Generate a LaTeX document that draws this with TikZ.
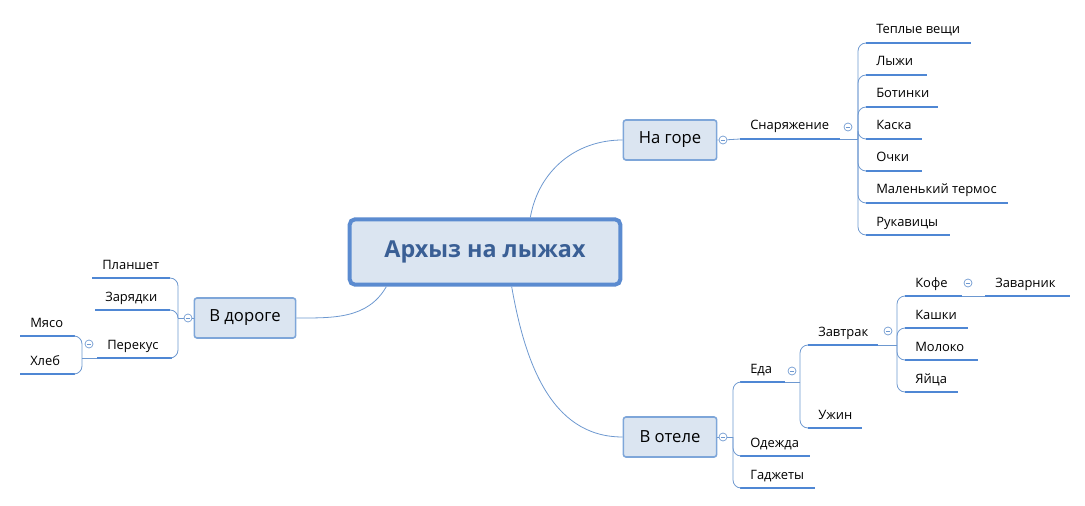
\documentclass[tikz,border=0pt]{standalone}
\usepackage{fontspec}
\setmainfont{Open Sans}
\usetikzlibrary{positioning}
\definecolor{boxfill}{HTML}{DBE5F1}
\definecolor{boxline}{HTML}{7EA6D9}
\definecolor{mainline}{HTML}{5B8BD0}
\definecolor{maintext}{HTML}{3A5F95}
\definecolor{uline}{HTML}{4F87D4}
\definecolor{conn}{HTML}{6D98D0}
\tikzset{
  topic/.style={draw=boxline,line width=1.2pt,fill=boxfill,rounded corners=2pt,
    minimum width=70pt,minimum height=30pt,font=\fontsize{12.5}{14}\selectfont},
  leaf/.style={anchor=base west,inner sep=0pt,font=\fontsize{9.7}{11}\selectfont},
  under/.style={draw=uline,line width=1.5pt},
  conn/.style={draw=conn,line width=0.6pt},
  fold/.style={circle,draw=conn,line width=0.5pt,fill=white,inner sep=0pt,minimum size=6pt,
    path picture={\draw[conn] ([xshift=-1.6pt]path picture bounding box.center) -- ([xshift=1.6pt]path picture bounding box.center);}}
}
\begin{document}
\begin{tikzpicture}[x=0.75pt,y=-0.75pt]
\useasboundingbox (0,0) rectangle (1085,506);
% main nodes
\node[draw=mainline,line width=3pt,fill=boxfill,rounded corners=4pt,minimum width=203pt,minimum height=49pt,
  font=\fontsize{17.5}{20}\bfseries\selectfont,text=maintext] (arhyz) at (485,252) {Архыз на лыжах};
\node[topic] (gora) at (670,140) {На горе};
\node[topic,minimum width=76pt] (doroga) at (245,318) {В дороге};
\node[topic] (otel) at (670,437) {В отеле};
\draw[conn] ([xshift=34pt]arhyz.north) to[out=80,in=180] (gora.west);
\draw[conn] ([xshift=20pt]arhyz.south) to[out=-80,in=180] (otel.west);
\draw[conn] ([xshift=-74pt]arhyz.south) to[out=-120,in=0] (doroga.east);
% leaves, right side
\foreach \n/\t/\x/\y/\w in {
  snar/Снаряжение/740/139/100, teplye/Теплые вещи/866/43/105, lyzhi/Лыжи/866/75/61,
  botinki/Ботинки/866/107/72, kaska/Каска/866/139/56, ochki/Очки/866/171/56,
  termos/Маленький термос/866/203/142, rukav/Рукавицы/866/235/84,
  eda/Еда/740/382/45, odezhda/Одежда/740/456/70, gadzhety/Гаджеты/740/488/75,
  zavtrak/Завтрак/808/345/70, uzhin/Ужин/808/428/54,
  kofe/Кофе/905/296/57, kashki/Кашки/905/328/63, moloko/Молоко/905/360/73, yaica/Яйца/905/392/53,
  zavarnik/Заварник/985/296/85}{
  \coordinate (\n-s) at (\x,\y);
  \coordinate (\n-e) at (\x+\w,\y);
  \node[leaf] (\n) at (\x+10,\y-9) {\t};
  \draw[under] (\n-s) -- (\n-e);
}
% leaves, left side
\foreach \n/\t/\x/\y/\w in {
  planshet/Планшет/92/278/78, zaryadki/Зарядки/95/310/75, perekus/Перекус/97/358/75,
  myaso/Мясо/20/336/55, hleb/Хлеб/20/374/55}{
  \coordinate (\n-s) at (\x,\y);
  \coordinate (\n-e) at (\x+\w,\y);
  \node[leaf] (\n) at (\x+10,\y-9) {\t};
  \draw[under] (\n-s) -- (\n-e);
}
% folds and trunks
\node[fold] (fgora) at (723,140) {};
\coordinate (tsnar) at (858,139);
\draw[conn] (gora.east) -- (fgora) -- (snar-s);
\node[fold] (fsnar) at (848,127) {};
\draw[conn] (snar-e) -- (tsnar);
\foreach \n in {teplye,lyzhi,botinki,kaska,ochki,termos,rukav}
  \draw[conn,rounded corners=6pt] (tsnar) |- (\n-s);
\node[fold] (fotel) at (723,437) {};
\coordinate (totel) at (733,437);
\draw[conn] (otel.east) -- (fotel) -- (totel);
\foreach \n in {eda,odezhda,gadzhety}
  \draw[conn,rounded corners=6pt] (totel) |- (\n-s);
\node[fold] (feda) at (792,371) {};
\coordinate (teda) at (800,382);
\draw[conn] (eda-e) -- (teda);
\foreach \n in {zavtrak,uzhin}
  \draw[conn,rounded corners=6pt] (teda) |- (\n-s);
\node[fold] (fzavtrak) at (888,331) {};
\coordinate (tzavtrak) at (897,345);
\draw[conn] (zavtrak-e) -- (tzavtrak);
\foreach \n in {kofe,kashki,moloko,yaica}
  \draw[conn,rounded corners=6pt] (tzavtrak) |- (\n-s);
\node[fold] (fkofe) at (968,283) {};
\draw[conn] (kofe-e) -- (zavarnik-s);
\node[fold] (fdoroga) at (188,318) {};
\coordinate (tdoroga) at (178,318);
\draw[conn] (doroga.west) -- (fdoroga) -- (tdoroga);
\foreach \n in {planshet,zaryadki,perekus}
  \draw[conn,rounded corners=6pt] (tdoroga) |- (\n-e);
\node[fold] (fperekus) at (89,344) {};
\coordinate (tperekus) at (82,358);
\draw[conn] (perekus-s) -- (tperekus);
\foreach \n in {myaso,hleb}
  \draw[conn,rounded corners=6pt] (tperekus) |- (\n-e);
\end{tikzpicture}
\end{document}
